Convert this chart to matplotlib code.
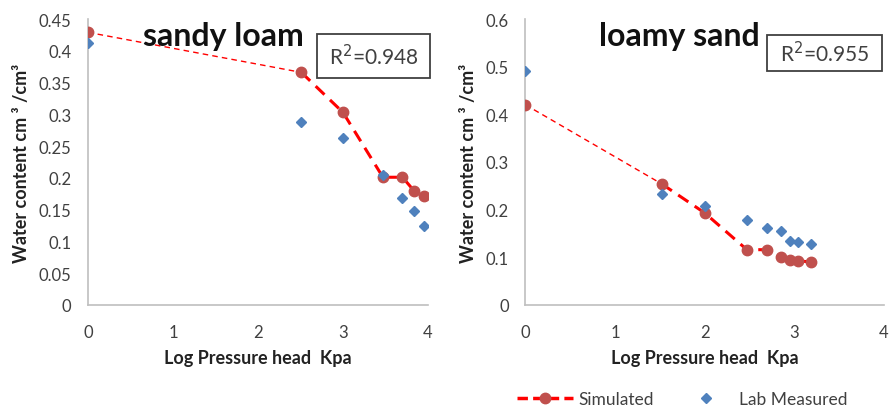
import matplotlib.pyplot as plt
from matplotlib.lines import Line2D
from matplotlib.patches import Rectangle

# water retention data, log pressure head (kPa) vs water content (cm3/cm3)
loam_x = [0, 2.51, 3.0, 3.47, 3.70, 3.84, 3.95]
loam_sim = [0.429, 0.366, 0.303, 0.201, 0.201, 0.179, 0.172]
loam_lab = [0.412, 0.288, 0.262, 0.205, 0.168, 0.148, 0.124]

sand_x = [0, 1.52, 2.0, 2.47, 2.69, 2.85, 2.95, 3.04, 3.18]
sand_sim = [0.42, 0.254, 0.193, 0.116, 0.116, 0.100, 0.095, 0.093, 0.090]
sand_lab = [0.491, 0.233, 0.207, 0.179, 0.162, 0.155, 0.135, 0.132, 0.127]

plt.rcParams['font.family'] = ['Lato', 'DejaVu Sans']

SIM_LINE = '#FF0000'
SIM_MARK = '#C0504D'
LAB_MARK = '#4F81BD'
AXIS_GREY = '#BFBFBF'
TEXT = '#404040'

fig = plt.figure(figsize=(8.92, 4.10), dpi=100)


def panel(rect, x, sim, lab, ymax, ystep, title, title_x, r2, box):
    ax = fig.add_axes(rect)
    # thin dashed segment to the first measured pressure, heavier beyond
    ax.plot(x[:2], sim[:2], color=SIM_LINE, ls=(0, (4, 3)), lw=1.0)
    ax.plot(x[1:], sim[1:], color=SIM_LINE, ls=(0, (4, 2.5)), lw=2.2)
    ax.plot(x, sim, ls='none', marker='o', ms=7.5, color=SIM_MARK, zorder=3)
    ax.plot(x, lab, ls='none', marker='D', ms=5, color=LAB_MARK, zorder=4)
    ax.set_xlim(0, 4)
    ax.set_ylim(0, ymax)
    ax.set_xticks(range(5))
    yt = [round(i * ystep, 2) for i in range(int(round(ymax / ystep)) + 1)]
    ax.set_yticks(yt)
    ax.set_yticklabels(['0' if v == 0 else ('%g' % v) for v in yt])
    ax.tick_params(length=0, labelsize=12, colors=TEXT)
    ax.tick_params(axis='x', pad=14)
    ax.tick_params(axis='y', pad=12)
    for s in ('top', 'right'):
        ax.spines[s].set_visible(False)
    for s in ('left', 'bottom'):
        ax.spines[s].set_color(AXIS_GREY)
        ax.spines[s].set_linewidth(1.2)
    ax.set_ylabel('Water content cm \u00b3 /cm\u00b3', fontsize=13,
                  fontweight='bold', color='#222222', labelpad=6)
    ax.set_xlabel('Log Pressure head  Kpa', fontsize=13, fontweight='bold',
                  color='#222222', labelpad=6)
    fig.text(title_x, 0.912, title, fontsize=23, fontweight='bold',
             color='#111111', ha='left', va='center')
    bx, by, bw, bh = box
    fig.add_artist(Rectangle((bx, by), bw, bh, transform=fig.transFigure,
                             fc='white', ec='#404040', lw=1.3, zorder=5))
    fig.text(bx + bw / 2, by + bh / 2, 'R$^2$=' + r2, fontsize=15, color=TEXT,
             ha='center', va='center', zorder=6)
    return ax


panel([0.0987, 0.2537, 0.3811, 0.6975], loam_x, loam_sim, loam_lab, 0.45, 0.05,
      'sandy loam', 0.160, '0.948', (0.3554, 0.8073, 0.1267, 0.1073))
panel([0.5891, 0.2537, 0.4020, 0.6975], sand_x, sand_sim, sand_lab, 0.6, 0.1,
      'loamy sand', 0.671, '0.955', (0.8599, 0.8244, 0.1289, 0.0878))

handles = [
    Line2D([], [], color=SIM_LINE, ls=(0, (3, 1.5)), lw=2.5, marker='o', ms=7.5,
           mfc=SIM_MARK, mec=SIM_MARK),
    Line2D([], [], ls='none', marker='D', ms=5, color=LAB_MARK),
]
fig.legend(handles, ['Simulated', 'Lab Measured'], loc='center',
           bbox_to_anchor=(0.765, 0.025), ncol=2, frameon=False, fontsize=12.5,
           handlelength=3.2, handletextpad=0.3, columnspacing=1.4,
           labelcolor=TEXT)

plt.savefig('out.png', dpi=100)
